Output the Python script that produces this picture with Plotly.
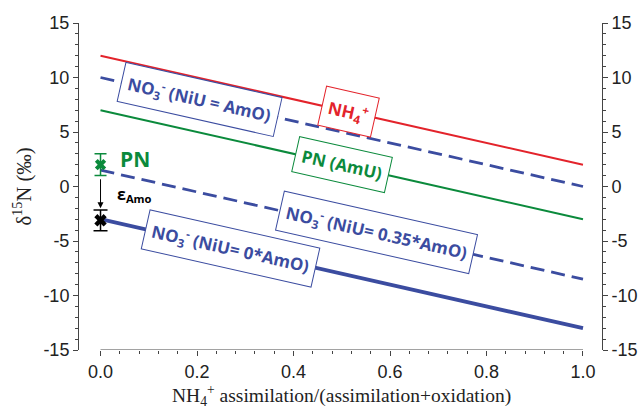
import plotly.graph_objects as go
import numpy as np

# ---- data ----
frac = [0.0, 1.0]                      # NH4+ assimilation fraction
nh4 = [12.0, 2.0]                      # NH4+
no3_eq = [10.0, 0.0]                   # NO3- (NiU = AmO)
pn_amu = [7.0, -3.0]                   # PN (AmU)
no3_035 = [1.5, -8.5]                  # NO3- (NiU = 0.35*AmO)
no3_0 = [-3.0, -13.0]                  # NO3- (NiU = 0*AmO)
pn_obs_x = [0.0]
pn_obs_y = [2.0]
pn_obs_err = [1.0]
amo_x = [0.0]
amo_y = [-3.1]
amo_err = [0.95]
x_ticks = [0.0, 0.2, 0.4, 0.6, 0.8, 1.0]
x_ticklabels = ["0.0", "0.2", "0.4", "0.6", "0.8", "1.0"]
y_ticks = [-15, -10, -5, 0, 5, 10, 15]
y_ticklabels = ["-15", "-10", "-5", "0", "5", "10", "15"]

RED = "#e3232b"
GREEN = "#0b8a3c"
BLUE = "#3b4ca0"
AX = "#444444"

fig = go.Figure()

def line(y, color, width, dash=None):
    fig.add_trace(go.Scatter(x=frac, y=y, mode="lines",
                             line=dict(color=color, width=width, dash=dash),
                             hoverinfo="skip", showlegend=False))

line(nh4, RED, 2)
line(no3_eq, BLUE, 2.8, "14px,7px")
line(pn_amu, GREEN, 2)
line(no3_035, BLUE, 2.8, "14px,7px")
line(no3_0, BLUE, 3.8)

fig.add_trace(go.Scatter(x=pn_obs_x, y=pn_obs_y, mode="markers",
                         marker=dict(symbol="x", size=10, color=GREEN),
                         error_y=dict(type="data", array=pn_obs_err, color=GREEN,
                                      thickness=1.5, width=6),
                         cliponaxis=False, showlegend=False, hoverinfo="skip"))
fig.add_trace(go.Scatter(x=amo_x, y=amo_y, mode="markers",
                         marker=dict(symbol="x", size=11, color="black"),
                         error_y=dict(type="data", array=amo_err, color="black",
                                      thickness=1.5, width=7),
                         cliponaxis=False, showlegend=False, hoverinfo="skip"))
# dummy trace for right axis
fig.add_trace(go.Scatter(x=frac, y=no3_eq, yaxis="y2", mode="lines",
                         line=dict(width=0), opacity=0, showlegend=False,
                         hoverinfo="skip"))

def at(series, xf):
    return float(np.interp(xf, frac, series))

ANG = 12.7
lab_font = dict(family="Open Sans", size=17, weight=700)

def box(text, series, xf, color):
    fig.add_annotation(x=xf, y=at(series, xf), text=text, showarrow=False,
                       textangle=ANG, xanchor="center", yanchor="middle",
                       font=dict(color=color, **lab_font), bgcolor="white",
                       bordercolor=color, borderwidth=1, borderpad=6)

box("NO<sub>3</sub><sup>-</sup> (NiU = AmO)", no3_eq, 0.206, BLUE)
box("NH<sub>4</sub><sup>+</sup>", nh4, 0.513, RED)
box("PN (AmU)", pn_amu, 0.50, GREEN)
box("NO<sub>3</sub><sup>-</sup> (NiU= 0.35*AmO)", no3_035, 0.573, BLUE)
box("NO<sub>3</sub><sup>-</sup> (NiU= 0*AmO)", no3_0, 0.27, BLUE)

fig.add_annotation(x=0.071, y=2.55, text="PN", showarrow=False,
                   font=dict(family="Open Sans", size=21, color=GREEN, weight=700))
fig.add_annotation(x=0.07, y=-0.75, text="ε<sub>Amo</sub>", showarrow=False,
                   font=dict(family="Open Sans", size=16, color="black", weight=700))
fig.add_annotation(x=0.0, y=-2.0, ax=0.0, ay=0.8, axref="x", ayref="y",
                   xref="x", yref="y", text="", showarrow=True,
                   arrowhead=2, arrowsize=1.2, arrowwidth=1, arrowcolor="black")

# x axis baseline only spanning 0..1
fig.add_shape(type="line", xref="x", yref="y", x0=0, x1=1, y0=-15, y1=-15,
              line=dict(color=AX, width=1))

tickfont = dict(family="Liberation Sans", size=18, color="#222222")
serif = dict(family="Liberation Serif", size=20.5, color="#222222")

# x-axis title as a paper annotation
fig.add_annotation(xref="paper", yref="paper", x=0.501, y=-0.14,
                   xanchor="center", yanchor="middle", showarrow=False,
                   text="NH<sub>4</sub><sup>+</sup> assimilation/(assimilation+oxidation)",
                   font=dict(family="Liberation Serif", size=19.5, color="#222222"))

yax = dict(range=[-15, 15], tickvals=y_ticks, ticktext=y_ticklabels,
           ticks="outside", ticklen=5,
           tickwidth=1, tickcolor=AX, showline=True, linecolor=AX, linewidth=1,
           showgrid=False, zeroline=False, tickfont=tickfont,
           minor=dict(dtick=1, ticks="outside", ticklen=3, tickcolor=AX, showgrid=False),
           anchor="x", automargin=False)

minor_x = [i / 25 for i in range(26)]

fig.update_layout(
    width=641, height=407,
    margin=dict(l=79, r=39, t=23, b=57, pad=0),
    paper_bgcolor="white", plot_bgcolor="white",
    xaxis=dict(domain=[0, 1], range=[-0.0446, 1.0394], tickvals=x_ticks,
               ticktext=x_ticklabels, ticks="outside", ticklen=5, tickwidth=1,
               tickcolor=AX, showline=False, showgrid=False, zeroline=False,
               tickfont=tickfont,
               minor=dict(tickmode="array", tickvals=minor_x, ticks="outside",
                          ticklen=3, tickcolor=AX, showgrid=False),
               automargin=False),
    yaxis=dict(**yax, title=dict(text="δ<sup>15</sup>N (‰)", font=serif, standoff=6)),
    yaxis2=dict(**yax, overlaying="y", side="right"),
    showlegend=False,
)

fig.write_html("out.html")
